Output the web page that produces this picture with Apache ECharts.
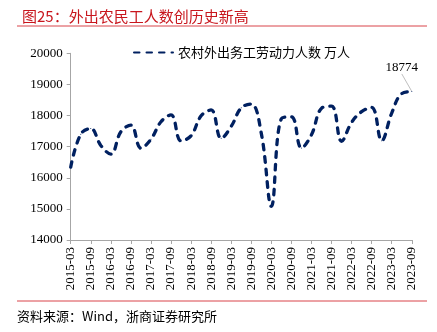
<!DOCTYPE html>
<html><head><meta charset="utf-8">
<script src="https://cdn.jsdelivr.net/npm/echarts@6/dist/echarts.min.js"></script>
<style>html,body{margin:0;padding:0;background:#fff}#c{width:437px;height:332px}</style>
</head><body><div id="c"></div>
<script>
const quarters = ['2015-03','2015-06','2015-09','2015-12','2016-03','2016-06','2016-09','2016-12','2017-03','2017-06','2017-09','2017-12','2018-03','2018-06','2018-09','2018-12','2019-03','2019-06','2019-09','2019-12','2020-03','2020-06','2020-09','2020-12','2021-03','2021-06','2021-09','2021-12','2022-03','2022-06','2022-09','2022-12','2023-03','2023-06','2023-09'];
const workers = [16340,17400,17580,17040,16760,17480,17690,16950,17240,17800,18020,17185,17350,17990,18180,17266,17651,18248,18371,17425,15080,17900,17960,16959,17380,18233,18303,17172,17780,18124,18260,17190,18080,18705,18774];
const seriesName = '农村外出务工劳动力人数 万人';
const yTicks = {min:14000, max:20000, interval:1000};
const titleText = '图25：外出农民工人数创历史新高';
const sourceText = '资料来源：Wind，浙商证券研究所';

const chart = echarts.init(document.getElementById('c'), null, {renderer:'canvas'});
const serif = '"Liberation Serif","Times New Roman",serif';
const cjk = '"Noto Sans CJK SC","Liberation Serif",serif';
const lastIdx = workers.length - 1;
chart.setOption({
  animation:false,
  backgroundColor:'#fff',
  title:{text:titleText,left:17,top:4,textStyle:{color:'#c8161d',fontSize:15,fontWeight:'normal',fontFamily:cjk}},
  graphic:[
    {type:'line',shape:{x1:17,y1:26,x2:427,y2:26},style:{stroke:'#d9454a',lineWidth:1}},
    {type:'line',shape:{x1:17,y1:301,x2:427,y2:301},style:{stroke:'#d9454a',lineWidth:1}},
    {type:'text',left:17,top:310,style:{text:sourceText,fill:'#000',font:'13px '+cjk}}
  ],
  legend:{show:true,left:128,top:41,itemWidth:39,itemHeight:14,itemGap:9,
    itemStyle:{opacity:0},
    textStyle:{fontSize:13,color:'#000',fontFamily:cjk}},
  grid:{left:70.7,right:25.2,top:53.3,bottom:92,containLabel:false},
  xAxis:{type:'category',data:quarters,boundaryGap:false,
    axisLine:{lineStyle:{color:'#a6a6a6',width:1}},
    axisTick:{show:true,interval:1,length:4,lineStyle:{color:'#a6a6a6'}},
    axisLabel:{interval:1,rotate:90,margin:7,color:'#000',fontSize:13,fontFamily:serif},
    splitLine:{show:false}},
  yAxis:{type:'value',min:yTicks.min,max:yTicks.max,interval:yTicks.interval,
    axisLine:{show:true,lineStyle:{color:'#a6a6a6',width:1}},
    axisTick:{show:true,length:4,inside:false,lineStyle:{color:'#a6a6a6'}},
    axisLabel:{margin:8,color:'#000',fontSize:13,fontFamily:serif,formatter:v=>String(v)},
    splitLine:{show:false}},
  series:[{
    name:seriesName,type:'line',
    data:workers.map((v,i)=> i===lastIdx ? {
      value:v,
      label:{show:true,position:'top',distance:5,formatter:'{c}',color:'#000',fontSize:13,fontFamily:serif}
    } : v),
    labelLayout:{dx:-10,dy:-12},
    labelLine:{show:true,lineStyle:{color:'#bfbfbf',width:1}},
    smooth:0.4,symbol:'circle',symbolSize:1,showSymbol:true,showAllSymbol:true,
    lineStyle:{color:'#002060',width:3.3,type:[5.5,7],cap:'round'},
    itemStyle:{color:'#002060'}
  }]
});
</script></body></html>
